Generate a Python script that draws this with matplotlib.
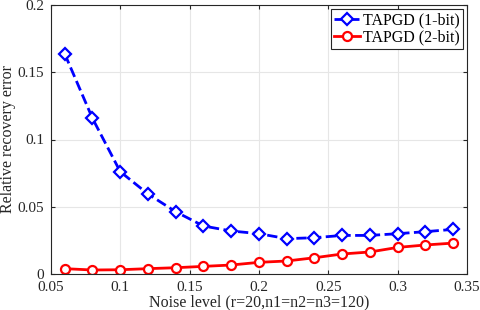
import matplotlib
matplotlib.use("Agg")
import matplotlib.pyplot as plt

noise = [0.06, 0.08, 0.10, 0.12, 0.14, 0.16, 0.18, 0.20, 0.22, 0.24, 0.26, 0.28, 0.30, 0.32, 0.34]
err_1bit = [0.1636, 0.1157, 0.0761, 0.0595, 0.0463, 0.0357, 0.0320, 0.0300, 0.0263, 0.0270, 0.0287, 0.0287, 0.0300, 0.0315, 0.0332]
err_2bit = [0.0040, 0.0030, 0.0032, 0.0040, 0.0047, 0.0057, 0.0067, 0.0087, 0.0097, 0.0121, 0.0149, 0.0164, 0.0198, 0.0216, 0.0230]
xticks = [0.05, 0.1, 0.15, 0.2, 0.25, 0.3, 0.35]
yticks = [0, 0.05, 0.1, 0.15, 0.2]
xtick_labels = ["0.05", "0.1", "0.15", "0.2", "0.25", "0.3", "0.35"]
ytick_labels = ["0", "0.05", "0.1", "0.15", "0.2"]

plt.rcParams['font.family'] = ['Liberation Serif', 'DejaVu Serif']
fig = plt.figure(figsize=(4.8, 3.1), dpi=100)
ax = fig.add_axes([0.106, 0.116, 0.867, 0.868])

ax.plot(noise, err_1bit, linestyle='--', color='#0000ff', linewidth=2, marker='D',
        markersize=6, markerfacecolor='white', markeredgewidth=1.6, label='TAPGD (1-bit)')
ax.plot(noise, err_2bit, linestyle='-', color='#ff0000', linewidth=2, marker='o',
        markersize=6.5, markerfacecolor='white', markeredgewidth=1.6, label='TAPGD (2-bit)')

ax.set_xlim(0.05, 0.35)
ax.set_ylim(0, 0.2)
ax.set_xticks(xticks)
ax.set_xticklabels(xtick_labels)
ax.set_yticks(yticks)
ax.set_yticklabels(ytick_labels)
ax.grid(True, color='#e6e6e6', linewidth=0.8)
ax.set_axisbelow(True)
ax.tick_params(direction='in', length=3, labelsize=11, colors='#262626', top=True, right=True,
               labeltop=False, labelright=False)
ax.tick_params(axis='x', pad=5)
ax.tick_params(axis='y', pad=5)
for s in ax.spines.values():
    s.set_color('#262626')
    s.set_linewidth(0.8)

ax.set_xlabel('Noise level (r=20,n1=n2=n3=120)', fontsize=11.5, color='#262626', labelpad=0)
ax.set_ylabel('Relative recovery error', fontsize=11.5, color='#262626', labelpad=1)

leg = ax.legend(loc='upper right', fontsize=11.5, frameon=True, fancybox=False,
                borderpad=0.2, handlelength=1.6, handletextpad=0.2, labelspacing=0.1,
                borderaxespad=0.25, edgecolor='#262626', framealpha=1)
leg.get_frame().set_linewidth(0.8)

fig.savefig('out.png', dpi=100)
